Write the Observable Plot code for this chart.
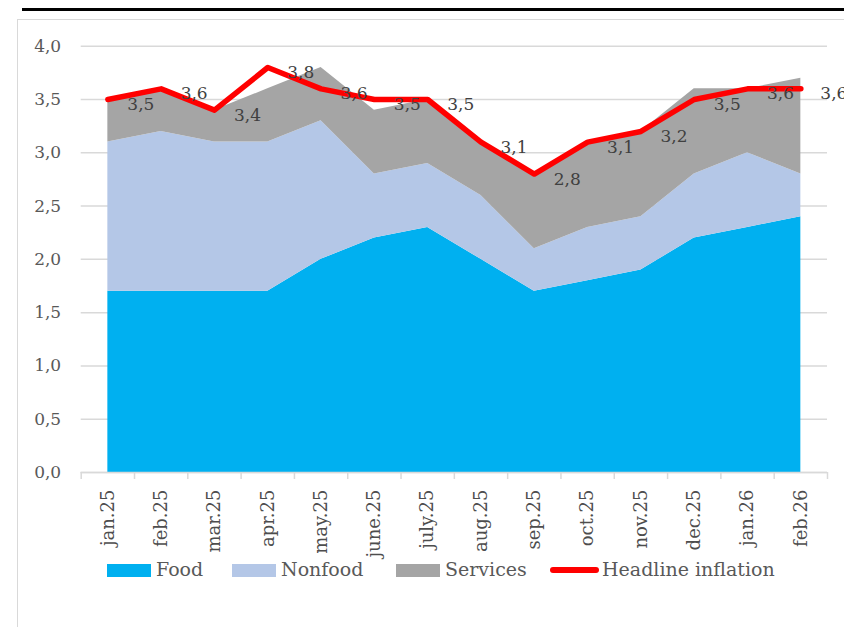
<!DOCTYPE html>
<html>
<head>
<meta charset="utf-8">
<script src="https://cdn.jsdelivr.net/npm/d3@7"></script>
<script src="https://cdn.jsdelivr.net/npm/@observablehq/plot@0.6"></script>
<style>
  html, body { margin: 0; padding: 0; background: #fff; overflow: hidden; }
  #wrap { position: relative; width: 844px; height: 627px; font-family: "DejaVu Serif", serif; }
  #topline { position: absolute; left: 22px; top: 8px; width: 822px; height: 3px; background: #000; }
  #frame { position: absolute; left: 17px; top: 19px; width: 840px; height: 640px; border: 1.5px solid #d9d9d9; box-sizing: border-box; }
  #chart { position: absolute; left: 0; top: 0; }
  .leg { position: absolute; top: 0; left: 0; }
  .sw { position: absolute; }
  .lt { position: absolute; font-size: 19px; color: #595959; line-height: 1; white-space: nowrap; }
</style>
</head>
<body>
<div id="wrap">
  <div id="topline"></div>
  <div id="frame"></div>
  <div id="chart"></div>
  <div id="legend" class="leg"></div>
</div>
<script>
const months = ["jan.25","feb.25","mar.25","apr.25","may.25","june.25","july.25","aug.25","sep.25","oct.25","nov.25","dec.25","jan.26","feb.26"];
const food     = [1.7,1.7,1.7,1.7,2.0,2.2,2.3,2.0,1.7,1.8,1.9,2.2,2.3,2.4];
const nonfood  = [1.4,1.5,1.4,1.4,1.3,0.6,0.6,0.6,0.4,0.5,0.5,0.6,0.7,0.4];
const services = [0.4,0.4,0.3,0.5,0.5,0.6,0.6,0.5,0.7,0.8,0.8,0.8,0.6,0.9];
const headline = [3.5,3.6,3.4,3.8,3.6,3.5,3.5,3.1,2.8,3.1,3.2,3.5,3.6,3.6];
const seriesNames = ["Food","Nonfood","Services"];
const seriesColors = ["#00b0f0","#b4c7e7","#a5a5a5"];
const lineName = "Headline inflation";
const lineColor = "#ff0000";
const yTicks = [0,0.5,1,1.5,2,2.5,3,3.5,4];

const fmt = d => d.toFixed(1).replace(".", ",");
const idx = months.map((m, i) => i);
const rows = [];
[food, nonfood, services].forEach((arr, s) => arr.forEach((v, i) => rows.push({i, series: seriesNames[s], value: v})));
const lineRows = headline.map((v, i) => ({i, value: v}));
const edges = months.concat([""]).map((m, i) => i - 0.5);

const chart = Plot.plot({
  width: 844,
  height: 627,
  marginLeft: 80.7,
  marginRight: 17,
  marginTop: 45.7,
  marginBottom: 155,
  style: {fontFamily: "DejaVu Serif, serif", color: "#595959", background: "transparent"},
  x: {type: "linear", domain: [-0.5, months.length - 0.5], label: null},
  y: {domain: [0, 4], label: null},
  color: {domain: seriesNames, range: seriesColors},
  marks: [
    Plot.gridY(yTicks, {stroke: "#d9d9d9", strokeOpacity: 1, strokeWidth: 1.5}),
    Plot.areaY(rows, {x: "i", y: "value", fill: "series", order: seriesNames}),
    Plot.ruleY([0], {stroke: "#d9d9d9", strokeWidth: 1.5}),
    Plot.axisX({ticks: edges, tickSize: 7, tickFormat: () => "", stroke: "#d9d9d9", strokeWidth: 1.5, label: null}),
    Plot.axisX({ticks: idx, tickSize: 0, tickPadding: 17, tickRotate: -90, tickFormat: i => months[i], fontSize: 18, fill: "#4d4d4d", label: null}),
    Plot.axisY({ticks: yTicks, tickSize: 0, tickPadding: 20, tickFormat: fmt, fontSize: 17, label: null}),
    Plot.line(lineRows, {x: "i", y: "value", stroke: lineColor, strokeWidth: 5.5, strokeLinejoin: "round", strokeLinecap: "round"}),
    Plot.text(lineRows, {x: "i", y: "value", text: d => fmt(d.value), dx: 33, dy: 5, fontSize: 17, fill: "#404040"})
  ]
});
document.getElementById("chart").appendChild(chart);

// legend
const legend = document.getElementById("legend");
const legItems = [
  {name: seriesNames[0], color: seriesColors[0], sx: 107, tx: 156, kind: "box"},
  {name: seriesNames[1], color: seriesColors[1], sx: 232, tx: 281, kind: "box"},
  {name: seriesNames[2], color: seriesColors[2], sx: 396, tx: 445, kind: "box"},
  {name: lineName, color: lineColor, sx: 550, tx: 602, kind: "line"}
];
legItems.forEach(it => {
  const sw = document.createElement("div");
  sw.className = "sw";
  if (it.kind === "box") {
    Object.assign(sw.style, {left: it.sx + "px", top: "564px", width: "44px", height: "13px", background: it.color});
  } else {
    Object.assign(sw.style, {left: it.sx + "px", top: "567px", width: "49px", height: "6px", background: it.color, borderRadius: "3px"});
  }
  legend.appendChild(sw);
  const t = document.createElement("div");
  t.className = "lt";
  t.textContent = it.name;
  Object.assign(t.style, {left: it.tx + "px", top: "560px"});
  legend.appendChild(t);
});
</script>
</body>
</html>
